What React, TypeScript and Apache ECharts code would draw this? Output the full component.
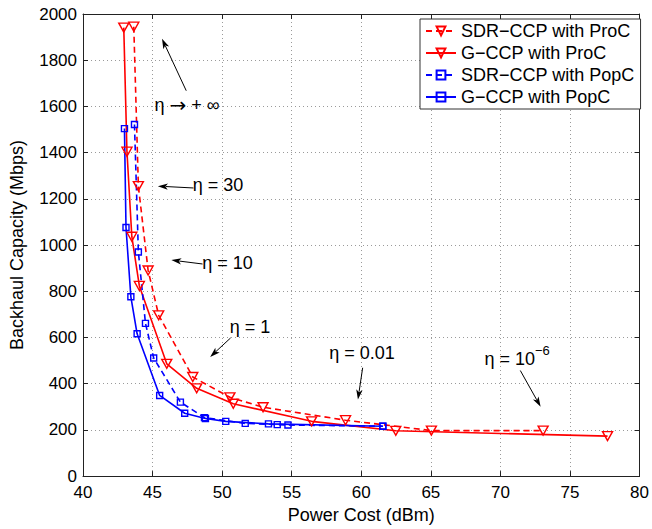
import React, { useEffect, useRef } from 'react';
import * as echarts from 'echarts';

// ---- data ----
const sdrProC: [number, number][] = [
  [43.65, 1945], [43.98, 1255], [44.68, 890], [45.44, 696], [47.89, 429],
  [50.56, 341], [52.94, 298], [58.87, 242], [65.04, 197], [73.07, 197],
];
const gProC: [number, number][] = [
  [42.93, 1941], [43.16, 1404], [43.51, 1036], [44.05, 823], [46.02, 486],
  [48.17, 380], [50.8, 313], [56.43, 237], [62.48, 196], [77.7, 173],
];
const sdrPopC: [number, number][] = [
  [43.7, 1522], [43.98, 970], [44.49, 661], [45.08, 511], [47.0, 320],
  [48.73, 253], [51.66, 228], [53.96, 223], [54.73, 221], [61.55, 216],
];
const gPopC: [number, number][] = [
  [42.98, 1504], [43.09, 1076], [43.44, 776], [43.89, 616], [45.51, 349],
  [47.31, 272], [48.8, 249], [50.26, 237], [53.33, 226], [61.55, 216],
];

const seriesNames = ['SDR\u2212CCP with ProC', 'G\u2212CCP with ProC', 'SDR\u2212CCP with PopC', 'G\u2212CCP with PopC'];

// annotations: text centre, arrow start, arrow tip (data coordinates)
const annotations = [
  { text: '\u03b7 \u2192 + \u221e', at: [47.47, 1608], from: [47.42, 1668], to: [45.68, 1893] },
  { text: '\u03b7 = 30', at: [49.7, 1262], from: [47.94, 1247], to: [45.38, 1255] },
  { text: '\u03b7 = 10', at: [50.38, 921], from: [48.59, 918], to: [46.35, 935] },
  { text: '\u03b7 = 1', at: [52.01, 647], from: [50.61, 598], to: [49.14, 516] },
  { text: '\u03b7 = 0.01', at: [60.06, 533], from: [60.1, 469], to: [59.76, 331] },
  { text: '\u03b7 = 10', sup: '\u22126', at: [71.2, 520], from: [71.43, 457], to: [72.89, 300] },
];

const FONT = '"Liberation Sans", Arial, Helvetica, sans-serif';

export default function App() {
  const ref = useRef<HTMLDivElement>(null);
  useEffect(() => {
    if (!ref.current) return;
    const chart = echarts.init(ref.current, null, { renderer: 'svg' });
    const axisCommon = {
      axisLine: { show: true, onZero: false, lineStyle: { color: '#222', width: 1 } },
      axisTick: { show: true, inside: true, length: 5, lineStyle: { color: '#222' } },
    };
    const grid = { type: [1, 3], color: '#9a9a9a', width: 1 };
    const red = '#ff0000';
    const blue = '#0000ff';
    const mk = (name: string, data: [number, number][], color: string, dashed: boolean, tri: boolean) => ({
      name,
      type: 'line',
      data,
      xAxisIndex: 0,
      yAxisIndex: 0,
      color,
      symbol: tri ? 'triangle' : 'rect',
      symbolRotate: tri ? 180 : 0,
      symbolSize: tri ? [10, 9] : [6, 6],
      showAllSymbol: true,
      lineStyle: { color, width: 1.6, type: dashed ? [6, 4] : 'solid' },
      itemStyle: { color: 'rgba(255,255,255,0)', borderColor: color, borderWidth: 1.4 },
      emphasis: { disabled: true },
      z: 3,
    });
    const plain = (v: number) => String(v);
    chart.setOption({
      animation: false,
      backgroundColor: '#fff',
      textStyle: { fontFamily: FONT },
      grid: { left: 73, right: 7, top: 14, bottom: 41, containLabel: false },
      legend: {
        orient: 'vertical',
        left: 420,
        top: 19,
        padding: [3, 6, 3, 5],
        itemWidth: 30,
        itemHeight: 11,
        itemGap: 4,
        backgroundColor: '#fff',
        borderColor: '#333',
        borderWidth: 1,
        borderRadius: 0,
        textStyle: { fontSize: 18, color: '#000', fontFamily: FONT, lineHeight: 18 },
        data: seriesNames,
      },
      xAxis: [
        {
          type: 'value', min: 40, max: 80, interval: 5, position: 'bottom',
          ...axisCommon,
          axisLabel: { fontSize: 17, color: '#000', margin: 8, fontFamily: FONT, formatter: plain },
          splitLine: { show: true, lineStyle: grid },
          name: 'Power Cost (dBm)', nameLocation: 'middle', nameGap: 23,
          nameTextStyle: { fontSize: 18, color: '#000', fontFamily: FONT },
        },
        {
          type: 'value', min: 40, max: 80, interval: 5, position: 'top',
          ...axisCommon,
          axisLabel: { show: false }, splitLine: { show: false },
        },
      ],
      yAxis: [
        {
          type: 'value', min: 0, max: 2000, interval: 200, position: 'left',
          ...axisCommon,
          axisLabel: { fontSize: 17, color: '#000', margin: 6, fontFamily: FONT, formatter: plain },
          splitLine: { show: true, lineStyle: grid },
          name: 'Backhaul Capacity (Mbps)', nameLocation: 'middle', nameGap: 57,
          nameTextStyle: { fontSize: 18, color: '#000', fontFamily: FONT },
        },
        {
          type: 'value', min: 0, max: 2000, interval: 200, position: 'right',
          ...axisCommon,
          axisLabel: { show: false }, splitLine: { show: false },
        },
      ],
      series: [
        mk(seriesNames[0], sdrProC, red, true, true),
        mk(seriesNames[1], gProC, red, false, true),
        mk(seriesNames[2], sdrPopC, blue, true, false),
        mk(seriesNames[3], gPopC, blue, false, false),
      ],
    });

    const px = (p: number[]) => chart.convertToPixel({ xAxisIndex: 0, yAxisIndex: 0 }, p) as number[];
    const elements: any[] = [];
    annotations.forEach((a) => {
      const c = px(a.at);
      const f = px(a.from);
      const t = px(a.to);
      const dx = t[0] - f[0];
      const dy = t[1] - f[1];
      const len = Math.sqrt(dx * dx + dy * dy) || 1;
      const ux = dx / len;
      const uy = dy / len;
      const L = 10;
      const W = 3.2;
      const bx = t[0] - ux * L;
      const by = t[1] - uy * L;
      elements.push({
        type: 'line',
        shape: { x1: f[0], y1: f[1], x2: bx + ux * 2, y2: by + uy * 2 },
        style: { stroke: '#000', lineWidth: 1 },
        z: 10,
      });
      elements.push({
        type: 'polygon',
        shape: { points: [[t[0], t[1]], [bx - uy * W, by + ux * W], [bx + ux * 2.5, by + uy * 2.5], [bx + uy * W, by - ux * W]] },
        style: { fill: '#000' },
        z: 10,
      });
      let style: any;
      if (a.sup) {
        style = {
          text: '{m|' + a.text + '}{s|' + a.sup + '}',
          align: 'center',
          verticalAlign: 'middle',
          fill: '#000',
          rich: {
            m: { fontSize: 18, fontFamily: FONT, fill: '#000', lineHeight: 24, verticalAlign: 'bottom' },
            s: { fontSize: 13, fontFamily: FONT, fill: '#000', lineHeight: 24, verticalAlign: 'top', padding: [0, 0, 10, 0] },
          },
        };
      } else if (a.text.indexOf('\u2192') >= 0) {
        const parts = a.text.split('\u2192');
        style = {
          text: '{m|' + parts[0] + '}{a|\u2192}{m|' + parts[1] + '}',
          align: 'center',
          verticalAlign: 'middle',
          fill: '#000',
          rich: {
            m: { fontSize: 18, fontFamily: FONT, fill: '#000', lineHeight: 22 },
            a: { fontSize: 20, fontFamily: '"DejaVu Sans", sans-serif', fill: '#000', lineHeight: 22 },
          },
        };
      } else {
        style = {
          text: a.text,
          font: '18px ' + FONT,
          align: 'center',
          verticalAlign: 'middle',
          fill: '#000',
        };
      }
      elements.push({ type: 'text', x: c[0], y: c[1], style, z: 10 });
    });
    chart.setOption({ graphic: elements });
    return () => chart.dispose();
  }, []);
  return (
    <div
      ref={ref}
      style={{ position: 'fixed', left: 0, top: 0, width: 652, height: 529, background: '#fff' }}
    />
  );
}
